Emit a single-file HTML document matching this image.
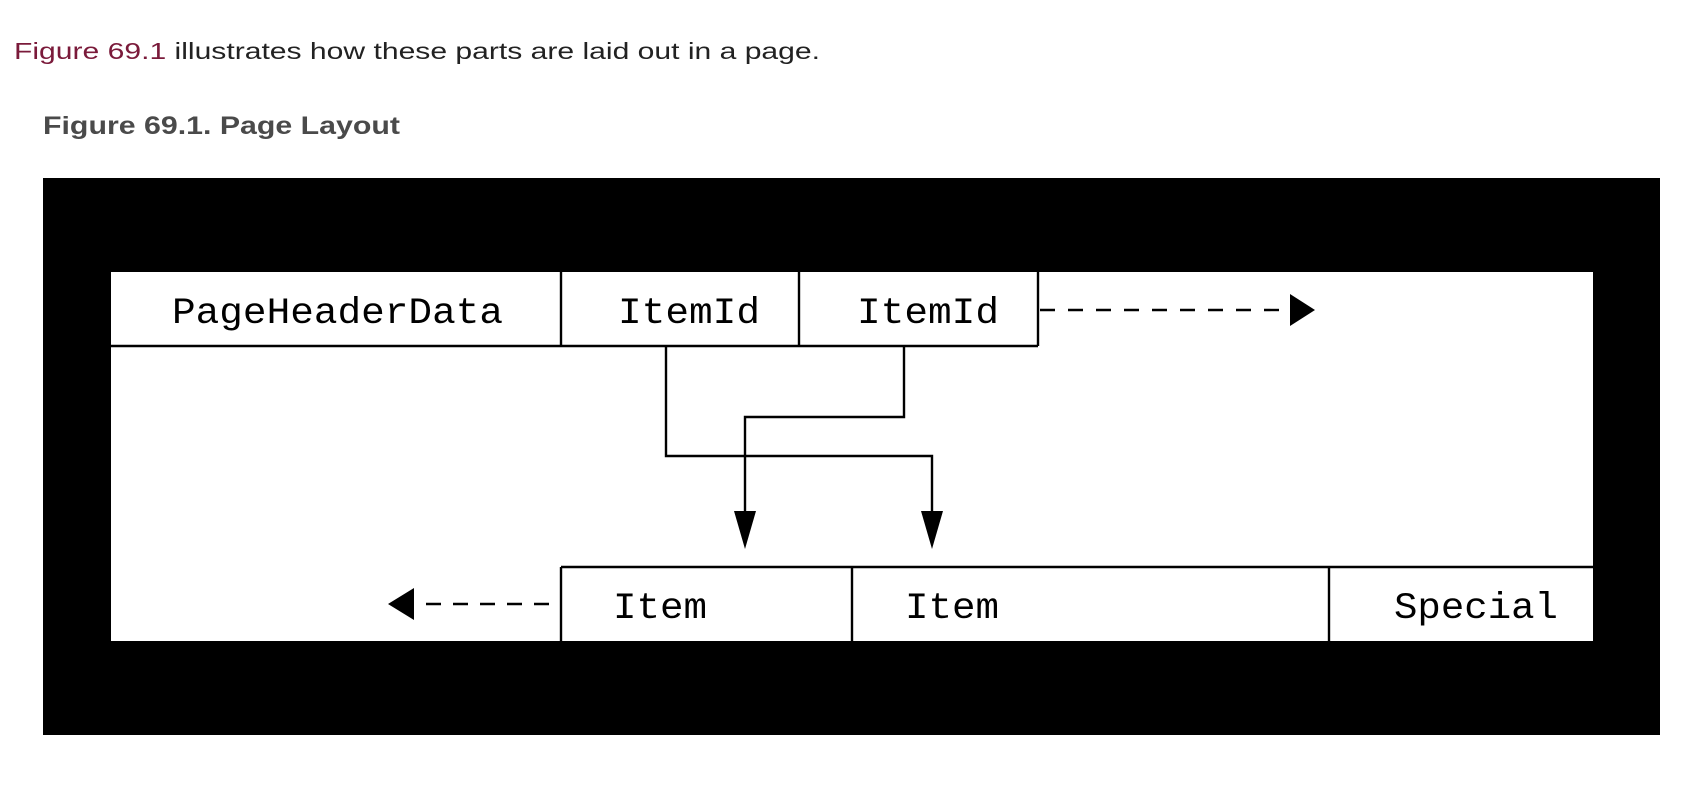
<!DOCTYPE html>
<html><head><meta charset="utf-8"><style>
html,body{margin:0;padding:0;background:#fff;width:1704px;height:794px;overflow:hidden}
</style></head><body>
<svg width="1704" height="794" viewBox="0 0 1704 794" xmlns="http://www.w3.org/2000/svg">
<text x="14" y="59" font-family="Liberation Sans, sans-serif" font-size="23" textLength="806" lengthAdjust="spacingAndGlyphs"><tspan fill="#7a1a3a">Figure 69.1</tspan><tspan fill="#222"> illustrates how these parts are laid out in a page.</tspan></text>
<text x="43" y="134" font-family="Liberation Sans, sans-serif" font-size="25" font-weight="bold" fill="#4a4a4a" textLength="357" lengthAdjust="spacingAndGlyphs">Figure 69.1. Page Layout</text>
<rect x="43" y="178" width="1617" height="557" fill="#000"/>
<rect x="111" y="272" width="1482" height="369" fill="#fff"/>
<g stroke="#000" stroke-width="2.4" fill="none">
<line x1="111" y1="346" x2="1038" y2="346"/>
<line x1="561" y1="272" x2="561" y2="346"/>
<line x1="799" y1="272" x2="799" y2="346"/>
<line x1="1038" y1="272" x2="1038" y2="346"/>
<line x1="561" y1="567" x2="1593" y2="567"/>
<line x1="561" y1="567" x2="561" y2="641"/>
<line x1="852" y1="567" x2="852" y2="641"/>
<line x1="1329" y1="567" x2="1329" y2="641"/>
<polyline points="666,346 666,456 932,456 932,515"/>
<polyline points="904,346 904,417 745,417 745,515"/>
<line x1="1040" y1="310" x2="1292" y2="310" stroke-dasharray="15,13"/>
<line x1="549" y1="604" x2="418" y2="604" stroke-dasharray="15,12"/>
</g>
<polygon points="1290,294 1315,310 1290,326" fill="#000"/>
<polygon points="414,588 388,604 414,620" fill="#000"/>
<polygon points="734,511 756,511 745,549" fill="#000"/>
<polygon points="921,511 943,511 932,549" fill="#000"/>
<g font-family="Liberation Mono, monospace" font-size="37" fill="#000">
<text x="172" y="323" textLength="331" lengthAdjust="spacingAndGlyphs">PageHeaderData</text>
<text x="618" y="323" textLength="142" lengthAdjust="spacingAndGlyphs">ItemId</text>
<text x="857" y="323" textLength="142" lengthAdjust="spacingAndGlyphs">ItemId</text>
<text x="613" y="618" textLength="94" lengthAdjust="spacingAndGlyphs">Item</text>
<text x="905" y="618" textLength="94" lengthAdjust="spacingAndGlyphs">Item</text>
<text x="1394" y="618" textLength="164" lengthAdjust="spacingAndGlyphs">Special</text>
</g>
</svg>
</body></html>
